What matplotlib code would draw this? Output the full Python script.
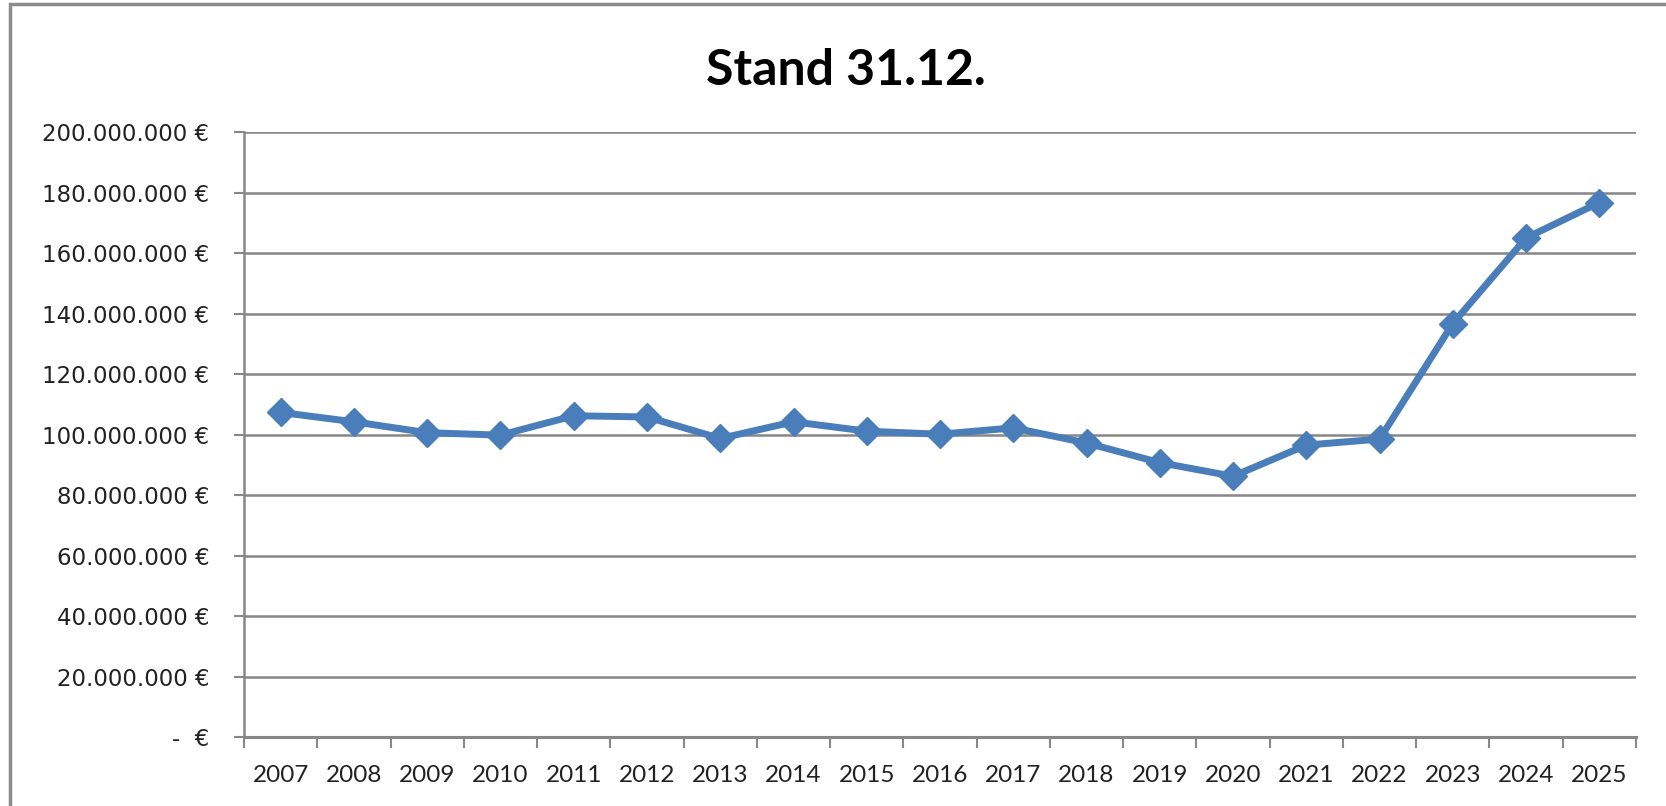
import matplotlib
matplotlib.use('Agg')
import matplotlib.pyplot as plt
from matplotlib.ticker import FuncFormatter, MultipleLocator
from matplotlib.patches import Rectangle

# Stand 31.12. je Jahr (Euro)
jahre = ['2007', '2008', '2009', '2010', '2011', '2012', '2013', '2014', '2015', '2016',
         '2017', '2018', '2019', '2020', '2021', '2022', '2023', '2024', '2025']
stand = [107300000, 104200000, 100600000, 99800000, 106200000, 105800000, 98700000,
         104200000, 101100000, 100100000, 102200000, 97200000, 90700000, 86200000,
         96500000, 98500000, 136700000, 165000000, 176700000]

blau = '#4A7EBB'
grau = '#878787'

fig = plt.figure(figsize=(16.66, 8.06), dpi=100)
ax = fig.add_axes([0.1465, 0.0856, 0.8355, 0.7506])

x = list(range(len(jahre)))
ax.plot(x, stand, color=blau, lw=5, marker='D', markersize=14, zorder=3, solid_joinstyle='round')

ax.set_xlim(-0.5, len(jahre) - 0.5)
ax.set_ylim(0, 200000000)
ax.yaxis.set_major_locator(MultipleLocator(20000000))


def euro(v, pos):
    if v == 0:
        return '-  €'
    return '{:,.0f}'.format(v).replace(',', '.') + ' €'


ax.yaxis.set_major_formatter(FuncFormatter(euro))
ax.grid(axis='y', color=grau, lw=1.8)
ax.set_axisbelow(True)

ax.set_xticks(x)
ax.set_xticklabels(jahre, fontfamily='Lato', fontsize=17.5, color='#222222')
ax.set_xticks([i - 0.5 for i in range(len(jahre) + 1)], minor=True)
ax.tick_params(axis='x', which='major', length=0, pad=20)
ax.tick_params(axis='x', which='minor', length=8, width=1.5, color=grau, direction='out')
ax.tick_params(axis='y', length=7, width=1.5, color=grau, pad=18, labelcolor='#222222',
               labelsize=16.5, labelfontfamily='DejaVu Sans')

for s in ['top', 'right']:
    ax.spines[s].set_visible(False)
ax.spines['left'].set_color(grau)
ax.spines['left'].set_linewidth(1.8)
ax.spines['bottom'].set_color(grau)
ax.spines['bottom'].set_linewidth(2.2)

fig.text(0.508, 0.912, 'Stand 31.12.', ha='center', va='center', fontsize=36,
         fontweight='bold', fontfamily='Lato')

# Rahmen des Diagramms (links und oben sichtbar)
fig.patches.append(Rectangle((10 / 1666, -0.1), 1.2, 1.1 - 4 / 806, transform=fig.transFigure,
                             fill=False, edgecolor='#8c8c8c', lw=2.5))

fig.savefig('out.png', dpi=100)
